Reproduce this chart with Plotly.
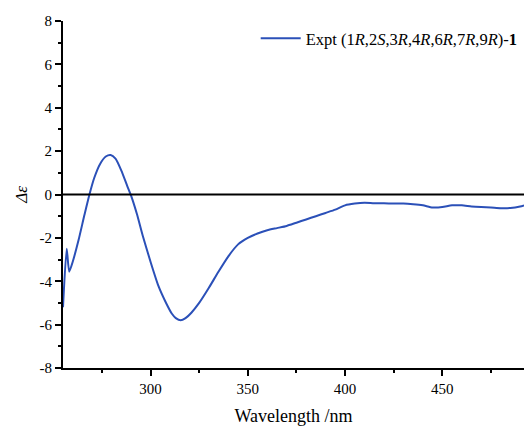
import plotly.graph_objects as go

wavelength = [255, 256.9, 258.2, 260, 263, 266, 268.6, 271, 274, 277, 279.5, 282, 285, 288, 290,
              293, 296, 300, 304, 308, 311, 313, 315.5, 318, 321, 325, 330, 335, 340, 345, 350,
              355, 360, 365, 370, 375, 380, 385, 390, 395, 400, 405, 410, 415, 420, 425, 430,
              435, 440, 445, 450, 455, 460, 465, 470, 475, 480, 485, 490, 492]
delta_eps = [-5.2, -2.5, -3.56, -3.1, -2.1, -0.95, 0.0, 0.75, 1.4, 1.75, 1.82, 1.65, 1.1, 0.4, -0.05,
             -0.9, -1.9, -3.1, -4.2, -5.0, -5.5, -5.7, -5.8, -5.7, -5.45, -5.0, -4.3, -3.55, -2.85, -2.3, -2.0,
             -1.8, -1.65, -1.55, -1.45, -1.3, -1.15, -1.0, -0.85, -0.7, -0.5, -0.42, -0.38, -0.4, -0.4, -0.42, -0.42,
             -0.45, -0.5, -0.6, -0.58, -0.5, -0.5, -0.55, -0.58, -0.6, -0.63, -0.62, -0.55, -0.5]

x_tickvals = [300, 350, 400, 450]
y_tickvals = [-8, -6, -4, -2, 0, 2, 4, 6, 8]
y_ticktext = ["-8", "-6", "-4", "-2", "0", "2", "4", "6", "8"]

series_name = "Expt (1<i>R</i>,2<i>S</i>,3<i>R</i>,4<i>R</i>,6<i>R</i>,7<i>R</i>,9<i>R</i>)-<b>1</b>"

fig = go.Figure()
fig.add_trace(go.Scatter(x=wavelength, y=delta_eps, mode="lines", name=series_name,
                         line=dict(color="#2b50b8", width=2, shape="spline", smoothing=0.6)))

fig.add_hline(y=0, line=dict(color="black", width=2))

font = "Liberation Serif, Times New Roman, serif"
fig.update_layout(
    width=524, height=426,
    margin=dict(l=63, r=0, t=21, b=58),
    paper_bgcolor="white", plot_bgcolor="white",
    font=dict(family=font, size=15, color="black"),
    showlegend=True,
    legend=dict(x=0.418, y=1.0, xanchor="left", yanchor="top", bgcolor="rgba(0,0,0,0)",
                itemwidth=40, font=dict(family=font, size=16.5)),
    xaxis=dict(range=[255, 492], showgrid=False, zeroline=False, showline=True,
               linecolor="black", linewidth=2, ticks="outside", ticklen=6, tickwidth=1.5,
               tickcolor="black", tickvals=x_tickvals,
               minor=dict(ticks="outside", ticklen=3, tickcolor="black", dtick=25, tick0=275),
               title=dict(text="Wavelength /nm", font=dict(size=18), standoff=14),
               tickfont=dict(size=15)),
    yaxis=dict(range=[-8, 8], showgrid=False, zeroline=False, showline=True,
               linecolor="black", linewidth=2, ticks="outside", ticklen=6, tickwidth=1.5,
               tickcolor="black", tickvals=y_tickvals, ticktext=y_ticktext,
               minor=dict(ticks="outside", ticklen=3, tickcolor="black", dtick=1),
               title=dict(text="<i>Δε</i>", font=dict(size=17), standoff=8),
               tickfont=dict(size=15)),
)

fig.write_html("out.html", config={"displayModeBar": False},
               post_script="document.body.style.margin='0';document.body.style.overflow='hidden';")
